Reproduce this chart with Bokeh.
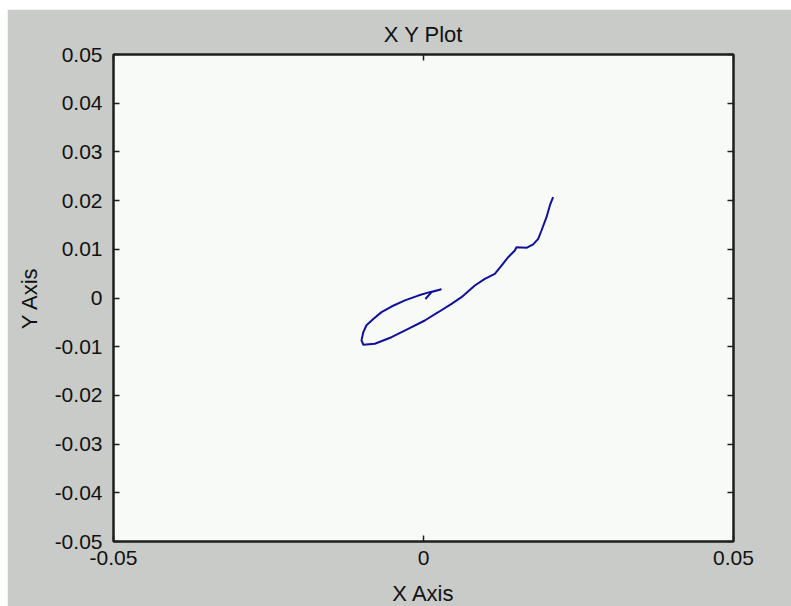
from bokeh.plotting import figure
from bokeh.models import LinearAxis, FixedTicker, Range1d
from bokeh.embed import file_html
from bokeh.resources import INLINE

# Trajectory samples (x, y), traced from the start near the origin,
# around the loop on the left, then up the right-hand branch.
traj_x = [0.0003, 0.0013, 0.0029, 0.0010, -0.00085, -0.0030, -0.00516, -0.00677,
          -0.0081, -0.0092, -0.0097, -0.0100, -0.0097, -0.00785, -0.00516, -0.00247,
          0.00021, 0.00237, 0.00452, 0.00613, 0.00828, 0.00989, 0.0115, 0.01258,
          0.01366, 0.01473, 0.0150, 0.01661, 0.01769, 0.0185, 0.01903, 0.01984,
          0.02038, 0.0209]
traj_y = [-0.0002, 0.0012, 0.0018, 0.0012, 0.0005, -0.0005, -0.00175, -0.0029,
          -0.0043, -0.0056, -0.0070, -0.0087, -0.0096, -0.0094, -0.00805, -0.00633,
          -0.00462, -0.00292, -0.00119, 0.00017, 0.00257, 0.00394, 0.00497, 0.00667,
          0.00838, 0.00975, 0.01043, 0.0103, 0.0110, 0.01215, 0.01386, 0.0166,
          0.0190, 0.0207]

x_ticks = [-0.05, 0.0, 0.05]
x_tick_labels = ["-0.05", "0", "0.05"]
y_ticks = [-0.05, -0.04, -0.03, -0.02, -0.01, 0.0, 0.01, 0.02, 0.03, 0.04, 0.05]
y_tick_labels = ["-0.05", "-0.04", "-0.03", "-0.02", "-0.01", "0",
                 "0.01", "0.02", "0.03", "0.04", "0.05"]

FONT = "Liberation Sans"
GREY = "#C8CBC7"
INK = "#1e1e1e"

p = figure(frame_width=620, frame_height=487,
           x_range=Range1d(-0.05, 0.05), y_range=Range1d(-0.05, 0.05),
           output_backend="svg", toolbar_location=None,
           title="X Y Plot",
           min_border_left=106, min_border_right=58,
           min_border_top=45, min_border_bottom=65)
p.margin = (9, 0, 0, 7)

p.background_fill_color = "#F7FAF7"
p.border_fill_color = GREY
p.outline_line_color = INK
p.outline_line_width = 2
p.grid.visible = False

p.title.align = "center"
p.title.text_font = FONT
p.title.text_font_size = "22px"
p.title.text_font_style = "normal"
p.title.text_color = "#111111"
p.title.standoff = 16


def style_axis(ax, ticks, labels, show_labels):
    ax.ticker = FixedTicker(ticks=ticks)
    ax.major_label_overrides = {t: s for t, s in zip(ticks, labels)}
    ax.minor_tick_line_color = None
    ax.major_tick_in = 6
    ax.major_tick_out = 0
    ax.major_tick_line_color = INK
    ax.major_tick_line_width = 1.5
    ax.axis_line_color = INK
    ax.axis_line_width = 2
    ax.major_label_text_font = FONT
    ax.major_label_text_font_size = "21px" if show_labels else "0px"
    ax.major_label_text_color = "#111111"
    ax.major_label_standoff = 9 if show_labels else 0
    ax.axis_label_text_font = FONT
    ax.axis_label_text_font_size = "22px"
    ax.axis_label_text_font_style = "normal"
    ax.axis_label_text_color = "#111111"


style_axis(p.xaxis[0], x_ticks, x_tick_labels, True)
p.xaxis[0].axis_label = "X Axis"
p.xaxis[0].axis_label_standoff = 13

style_axis(p.yaxis[0], y_ticks, y_tick_labels, True)
p.yaxis[0].axis_label = "Y Axis"
p.yaxis[0].axis_label_standoff = 10
p.yaxis[0].major_label_standoff = 11

top_axis = LinearAxis()
style_axis(top_axis, x_ticks, ["", "", ""], False)
p.add_layout(top_axis, "above")

right_axis = LinearAxis()
style_axis(right_axis, y_ticks, [""] * len(y_ticks), False)
p.add_layout(right_axis, "right")

p.line(traj_x, traj_y, line_color="#10109A", line_width=2)

open("out.html", "w").write(file_html(p, INLINE))
